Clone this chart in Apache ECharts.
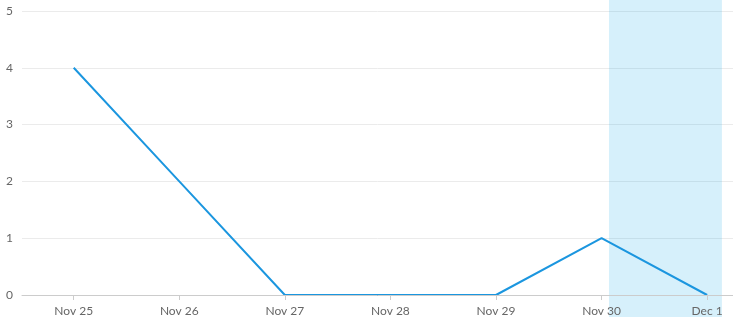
<!DOCTYPE html>
<html><head><meta charset="utf-8">
<script src="https://cdn.jsdelivr.net/npm/echarts@6/dist/echarts.min.js"></script>
<style>html,body{margin:0;padding:0;background:#fff}#c{width:733px;height:332px}</style>
</head><body><div id="c"></div>
<script>
const categories = ["Nov 25","Nov 26","Nov 27","Nov 28","Nov 29","Nov 30","Dec 1"];
const values = [4, 2, 0, 0, 0, 1, 0];
const yTicks = [0, 1, 2, 3, 4, 5];
const highlight = [5.07, 6.14];

const chart = echarts.init(document.getElementById('c'));
const idx = categories.map((_, i) => i);
const xMin = -0.49, xMax = 6.245;
chart.setOption({
  animation: false,
  grid: [
    {left: 22, right: 0, top: 11, bottom: 37, containLabel: false},
    {left: 22, right: 0, top: 0, bottom: 15, containLabel: false}
  ],
  xAxis: [{
    type: 'value', min: xMin, max: xMax, gridIndex: 0,
    axisLine: {show: true, onZero: false, lineStyle: {color: '#cccccc', width: 1}},
    axisTick: {show: true, customValues: idx, length: 5, lineStyle: {color: '#cccccc'}},
    axisLabel: {show: true, customValues: idx, color: '#666666', fontFamily: 'Lato', fontSize: 12, margin: 10,
      formatter: v => categories[Math.round(v)]},
    splitLine: {show: false},
    z: 5
  }, {
    type: 'value', min: xMin, max: xMax, gridIndex: 1, show: false
  }],
  yAxis: [{
    type: 'value', min: 0, max: 5, interval: 1, gridIndex: 0,
    axisLine: {show: false}, axisTick: {show: false},
    axisLabel: {color: '#666666', fontFamily: 'Lato', fontSize: 12, margin: 9},
    splitLine: {lineStyle: {color: '#ebebeb', width: 1}}
  }, {
    type: 'value', min: 0, max: 1, gridIndex: 1, show: false
  }],
  series: [{
    type: 'line', xAxisIndex: 1, yAxisIndex: 1, z: 1,
    data: [[xMin, 0]], showSymbol: false, symbol: 'none',
    lineStyle: {opacity: 0},
    markArea: {
      silent: true,
      itemStyle: {color: 'rgba(0,160,230,0.16)'},
      data: [[{xAxis: highlight[0], yAxis: 1}, {xAxis: highlight[1], yAxis: 0}]]
    }
  }, {
    type: 'line', xAxisIndex: 0, yAxisIndex: 0, z: 3,
    data: values.map((v, i) => [i, v]),
    showSymbol: false, symbol: 'none',
    lineStyle: {color: '#1b96df', width: 2}
  }]
});
</script></body></html>
